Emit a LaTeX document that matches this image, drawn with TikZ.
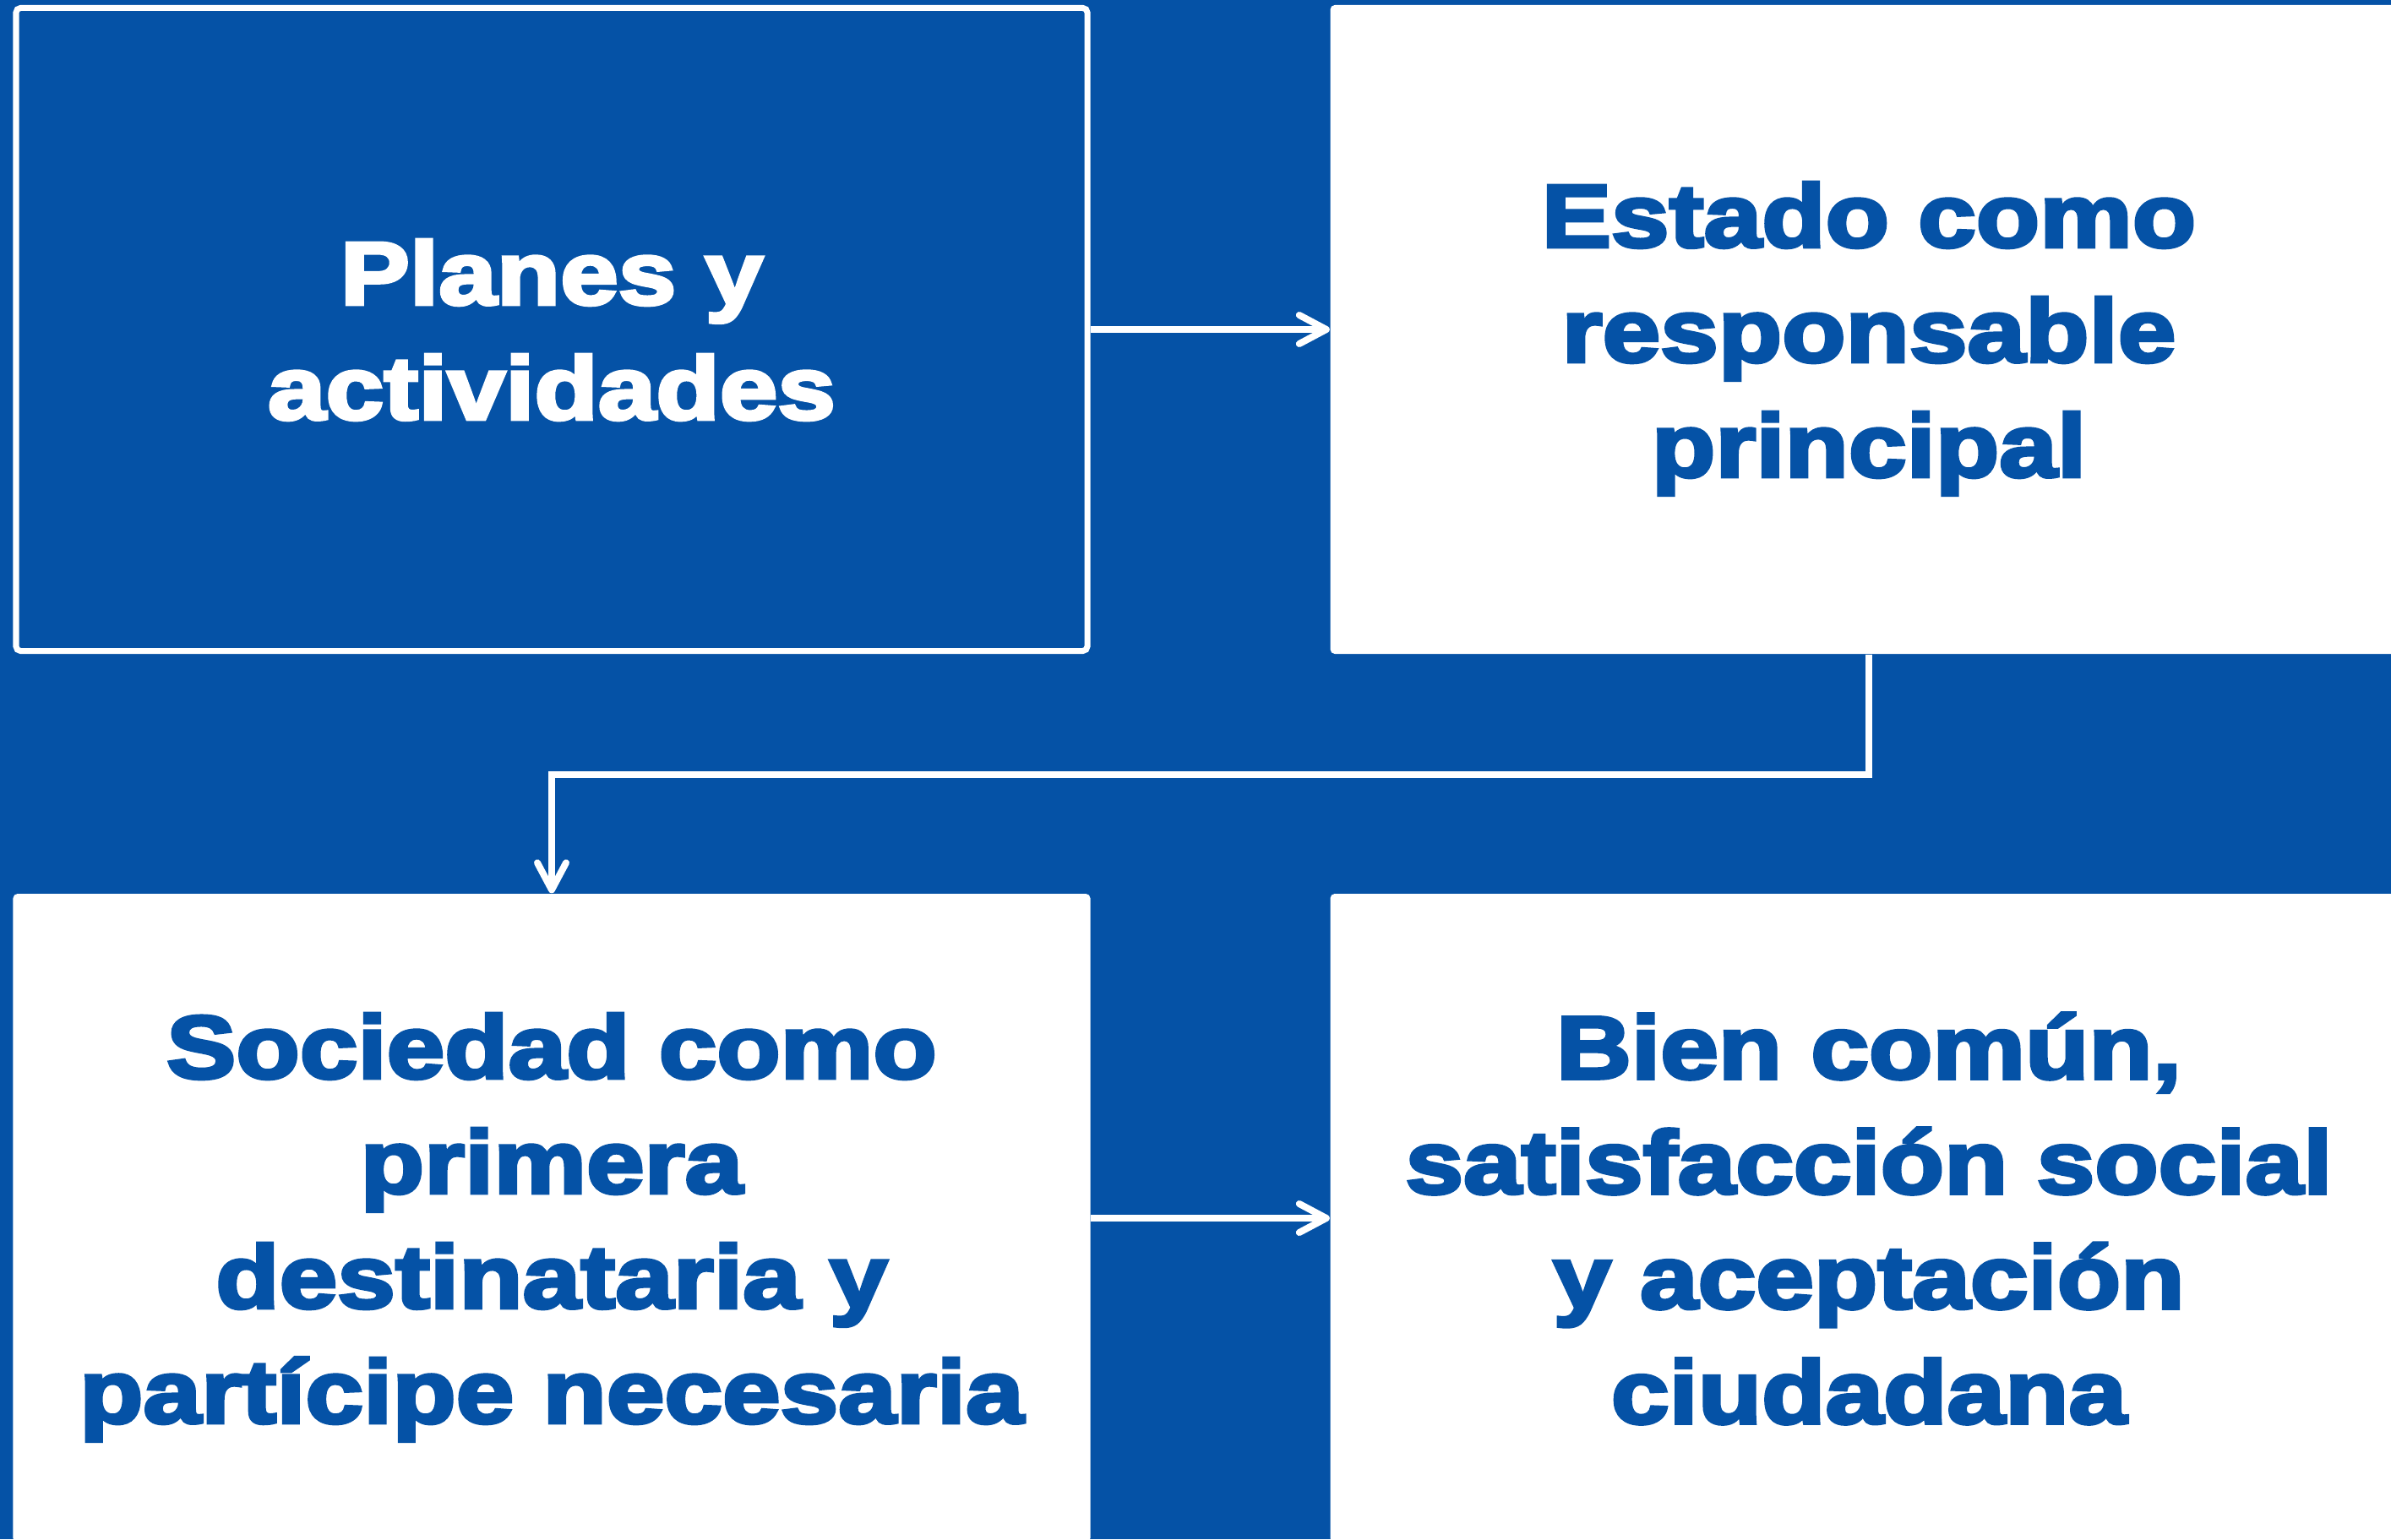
\documentclass[tikz,border=0pt]{standalone}
\usepackage{fontspec}
\newfontfamily\heavy{Liberation Sans}[BoldFeatures={FakeBold=4,FakeStretch=1.17}]
\usetikzlibrary{arrows.meta}
\definecolor{bgblue}{HTML}{0552A6}
\tikzset{
  box/.style={rectangle, rounded corners=1.5pt, minimum width=12.75cm, minimum height=7.68cm,
    align=center, inner sep=0pt, text depth=0pt, font=\heavy\bfseries\fontsize{30}{38.7}\selectfont},
  whitebox/.style={box, fill=white, text=bgblue},
  bluebox/.style={box, draw=white, line width=0.07cm, minimum width=12.68cm, minimum height=7.61cm, text=white},
  conn/.style={draw=white, line width=0.08cm,
    -{Straight Barb[length=0.32cm, width=0.34cm, round]}}
}
\begin{document}
\begin{tikzpicture}[x=1cm,y=1cm]
\useasboundingbox (0,0) rectangle (28.30,-18.22);
\clip (0,0) rectangle (28.30,-18.22);
\fill[bgblue] (0,0) rectangle (28.30,-18.22);
\node[bluebox] (b1) at (6.53,-3.90) {Planes y\\actividades};
\node[whitebox] (b2) at (22.12,-3.90) {Estado como\\responsable\\principal};
\node[whitebox] (b3) at (6.53,-14.42) {Sociedad como\\primera\\destinataria y\\partícipe necesaria};
\node[whitebox] (b4) at (22.12,-14.42) {Bien común,\\satisfacción social\\y aceptación\\ciudadana};
\draw[conn] (b1.east) -- (b2.west);
\draw[conn] (b2.south) -- ++(0,-1.42) -| (b3.north);
\draw[conn] (b3.east) -- (b4.west);
\end{tikzpicture}
\end{document}
